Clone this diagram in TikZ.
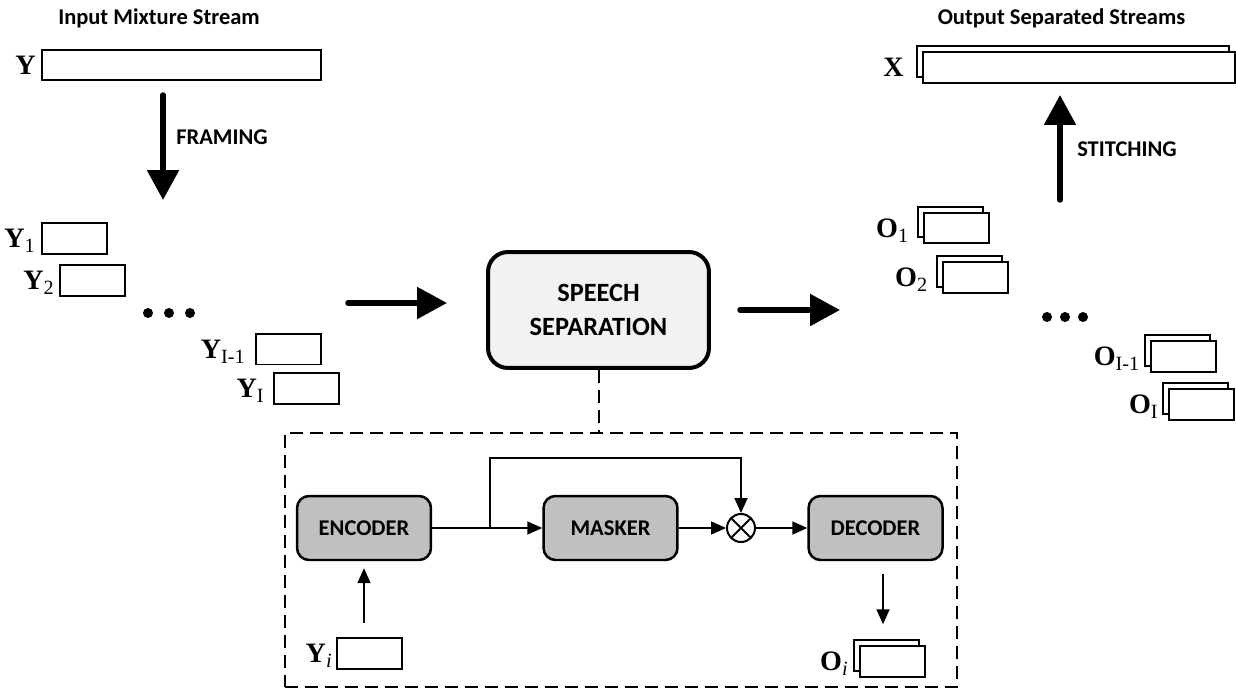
\documentclass[tikz,border=0pt]{standalone}
\usepackage{fontspec}
\setmainfont{Carlito}
\newfontfamily\tnr{Liberation Serif}
\usetikzlibrary{arrows.meta,calc,shadows,positioning}
\definecolor{boxgray}{HTML}{C0C0C0}
\definecolor{ssgray}{HTML}{F2F2F2}
\newcommand{\vlab}[2]{{\bfseries #1}\raisebox{-3pt}[0pt][0pt]{\fontsize{11.5}{12}\selectfont #2}}

\tikzset{
  frame/.style={draw, line width=0.04cm, fill=white, minimum width=1.3cm, minimum height=0.62cm, inner sep=0pt},
  stack/.style={frame, copy shadow={shadow xshift=-0.12cm, shadow yshift=0.12cm}},
  lbl/.style={anchor=east, inner sep=0pt, font=\tnr\fontsize{16}{18}\selectfont},
  caption/.style={inner sep=0pt, font=\bfseries\fontsize{12.8}{15}\selectfont},
  block/.style={draw, line width=0.05cm, rounded corners=0.24cm, fill=boxgray, minimum width=2.68cm, minimum height=1.28cm, font=\bfseries\fontsize{12.8}{15}\selectfont},
  bigarrow/.style={line width=0.11cm, line cap=round, -{Triangle[length=0.6cm,width=0.62cm]}},
  arr/.style={line width=0.035cm, -{Triangle[length=0.3cm,width=0.26cm]}},
  dashline/.style={line width=0.04cm, dash pattern=on 0.26cm off 0.14cm},
}

\begin{document}
\begin{tikzpicture}[x=0.02cm, y=-0.02cm]
			%%%%% START %%%%%
			\useasboundingbox (0,0) rectangle (1236,689);
			
			% input side
			\node[caption, anchor=base] (incap) at (159,25) {Input Mixture Stream};
			\node[frame, minimum width=5.58cm, minimum height=0.6cm] (ybox) at (181.5,65) {};
			\node[lbl] (ylab) at ([xshift=-0.1cm]ybox.west) {\vlab{Y}{}};
			
			\draw[bigarrow] (163,95) -- (163,200);
			\node[caption] (framing) at (222,137) {FRAMING};
			
			\node[frame] (y1) at (74.5,238.5) {};
			\node[lbl] (y1lab) at ([xshift=-0.12cm]y1.west) {\vlab{Y}{1}};
			\node[frame] (y2) at (92.5,280.5) {};
			\node[lbl] (y2lab) at ([xshift=-0.1cm]y2.west) {\vlab{Y}{2}};
			\node[frame] (yim) at (288.5,349) {};
			\node[lbl] (yimlab) at ([xshift=-0.2cm]yim.west) {\vlab{Y}{I-1}};
			\node[frame] (yI) at (306.5,388.5) {};
			\node[lbl] (yIlab) at ([xshift=-0.18cm]yI.west) {\vlab{Y}{I}};
			\foreach \x in {148,169,190} \fill (\x,313) circle (0.1cm);
			
			% separation
			\node[draw, line width=0.08cm, rounded corners=0.4cm, fill=ssgray, minimum width=4.42cm, minimum height=2.32cm, align=center, font=\bfseries\fontsize{15}{19.4}\selectfont] (ss) at (598.5,310) {SPEECH\\SEPARATION};
			\coordinate (inl) at (348,303);
			\coordinate (inr) at (447,303);
			\draw[bigarrow] (inl) -- (inr);
			\coordinate (outl) at (740,310);
			\coordinate (outr) at (840,310);
			\draw[bigarrow] (outl) -- (outr);
			
			% output side
			\node[caption, anchor=base] (outcap) at (1061.5,25) {Output Separated Streams};
			\node[stack, minimum width=6.24cm] (xbox) at (1079,67.5) {};
			\node[lbl] (xlab) at ([xshift=-0.36cm]xbox.west) {\vlab{X}{}};
			
			\draw[bigarrow] (1060,200) -- (1060,95);
			\node[caption] (stitch) at (1127,149.5) {STITCHING};
			
			\node[stack] (o1) at (956,228) {};
			\node[lbl] (o1lab) at ([xshift=-0.28cm]o1.west) {\vlab{O}{1}};
			\node[stack] (o2) at (975,277.5) {};
			\node[lbl] (o2lab) at ([xshift=-0.28cm]o2.west) {\vlab{O}{2}};
			\node[stack] (oim) at (1183,356.5) {};
			\node[lbl] (oimlab) at ([xshift=-0.2cm]oim.west) {\vlab{O}{I-1}};
			\node[stack] (oI) at (1201.5,404.5) {};
			\node[lbl] (oIlab) at ([xshift=-0.2cm]oI.west) {\vlab{O}{I}};
			\foreach \x in {1047,1065,1083} \fill (\x,317) circle (0.1cm);
			
			% detail of the separation block
			\node[draw, dashline, minimum width=13.44cm, minimum height=5.08cm, inner sep=0pt] (detail) at (621,560) {};
			\draw[dashline] (ss.south) -- (ss.south |- detail.north);
			
			\node[block] (enc) at (364,528) {ENCODER};
			\node[block] (mask) at (610.5,528) {MASKER};
			\node[block] (dec) at (875.5,528) {DECODER};
			\node[draw, circle, line width=0.04cm, minimum size=0.56cm, inner sep=0pt,
			      path picture={\draw[line width=0.04cm] (path picture bounding box.south west) -- (path picture bounding box.north east)
			                    (path picture bounding box.north west) -- (path picture bounding box.south east);}] (mul) at (741,528) {};
			
			\coordinate (br) at (490,528);
			\draw[line width=0.035cm] (enc) -- (br);
			\draw[arr] (br) -- (mask);
			\draw[arr] (br) -- ++(0,-70) -| (mul);
			\draw[arr] (mask) -- (mul);
			\draw[arr] (mul) -- (dec);
			
			\node[frame] (yi) at (369.5,653.5) {};
			\node[lbl] (yilab) at ([xshift=-0.08cm]yi.west) {\vlab{Y}{\itshape i}};
			\draw[arr] ($(enc.south)+(0,62)$) -- ($(enc.south)+(0,7)$);
			
			\node[stack] (oi) at (892.5,661.5) {};
			\node[lbl] (oilab) at ([xshift=-0.22cm]oi.west) {\vlab{O}{\itshape i}};
			\draw[arr] ($(dec.south)+(7.5,13)$) -- ($(dec.south)+(7.5,63)$);
			
			%%%%% END %%%%%
		\end{tikzpicture}
\end{document}
